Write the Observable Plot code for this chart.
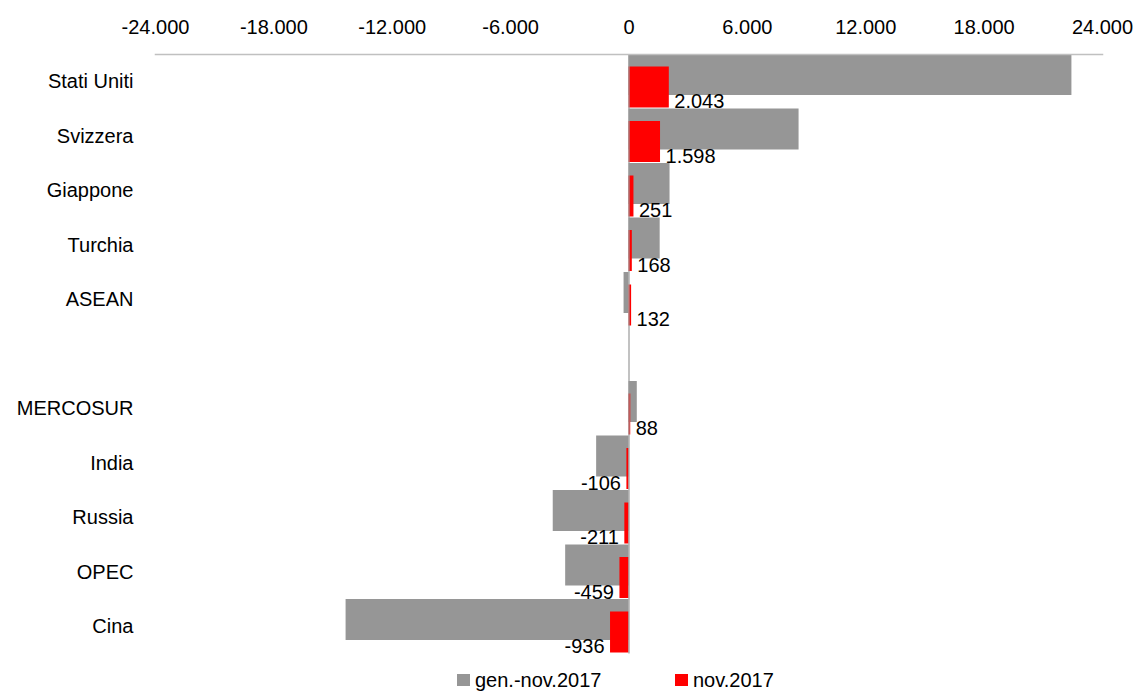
<!DOCTYPE html>
<html>
<head>
<meta charset="utf-8">
<script src="https://cdn.jsdelivr.net/npm/d3@7"></script>
<script src="https://cdn.jsdelivr.net/npm/@observablehq/plot@0.6"></script>
<style>
  html, body { margin: 0; padding: 0; background: #fff; }
  body { width: 1138px; height: 691px; overflow: hidden; font-family: "Liberation Sans", Arial, sans-serif; }
  #chart svg { display: block; }
  #legend { position: relative; height: 26px; font-size: 20px; color: #000; }
  .item { position: absolute; top: 2px; display: flex; align-items: center; height: 26px; }
  .sw { width: 13px; height: 12px; margin-right: 5px; }
</style>
</head>
<body>
<div id="chart"></div>
<div id="legend"></div>
<script>
const categories = ["Stati Uniti", "Svizzera", "Giappone", "Turchia", "ASEAN", "", "MERCOSUR", "India", "Russia", "OPEC", "Cina"];
const periodValues = [22450, 8620, 2080, 1580, -250, null, 420, -1640, -3840, -3210, -14340];
const monthValues = [2043, 1598, 251, 168, 132, null, 88, -106, -211, -459, -936];
const xTicks = [-24000, -18000, -12000, -6000, 0, 6000, 12000, 18000, 24000];
const seriesNames = ["gen.-nov.2017", "nov.2017"];
const seriesColors = ["#969696", "#ff0000"];

const fmt = d3.formatLocale({decimal: ",", thousands: ".", grouping: [3], currency: ["€", ""], minus: "-"}).format(",d");

const rows = categories.map((c, i) => ({cat: c, period: periodValues[i], month: monthValues[i]})).filter(d => d.period !== null);

const font = "Liberation Sans, Arial, sans-serif";

const chart = Plot.plot({
  width: 1138,
  height: 665,
  marginLeft: 155,
  marginRight: 36,
  marginTop: 54,
  marginBottom: 11.5,
  style: {fontFamily: font, fontSize: "20px", color: "#000", background: "#fff"},
  x: {domain: [-24000, 24000], ticks: xTicks, tickFormat: fmt},
  y: {domain: categories, padding: 0, round: false, label: null},
  marks: [
    Plot.barX(rows, {x: "period", y: "cat", fill: seriesColors[0], insetTop: 0, insetBottom: 13.5}),
    Plot.barX(rows, {x: "month", y: "cat", fill: seriesColors[1], insetTop: 12.5, insetBottom: 1}),
    Plot.ruleX([0], {stroke: "#999999", strokeWidth: 1.2}),
    Plot.frame({anchor: "top", stroke: "#c0c0c0", strokeWidth: 1.5}),
    Plot.axisX({anchor: "top", ticks: xTicks, tickFormat: fmt, tickSize: 0, tickPadding: 21, fontSize: 20, fill: "#000", label: null}),
    Plot.axisY({anchor: "left", tickSize: 0, tickPadding: 22, fontSize: 20, fill: "#000", tickFormat: d => d, label: null}),
    Plot.text(rows.filter(d => d.month >= 0), {x: "month", y: "cat", text: d => fmt(d.month), textAnchor: "start", dx: 5, dy: 20, fontSize: 20, fill: "#000"}),
    Plot.text(rows.filter(d => d.month < 0), {x: "month", y: "cat", text: d => fmt(d.month), textAnchor: "end", dx: -6, dy: 20, fontSize: 20, fill: "#000"})
  ]
});
document.getElementById("chart").appendChild(chart);

const legend = document.getElementById("legend");
const lefts = [457, 675];
seriesNames.forEach((name, i) => {
  const item = document.createElement("div");
  item.className = "item";
  item.style.left = lefts[i] + "px";
  const sw = document.createElement("div");
  sw.className = "sw";
  sw.style.background = seriesColors[i];
  const label = document.createElement("span");
  label.textContent = name;
  item.appendChild(sw);
  item.appendChild(label);
  legend.appendChild(item);
});
</script>
</body>
</html>
